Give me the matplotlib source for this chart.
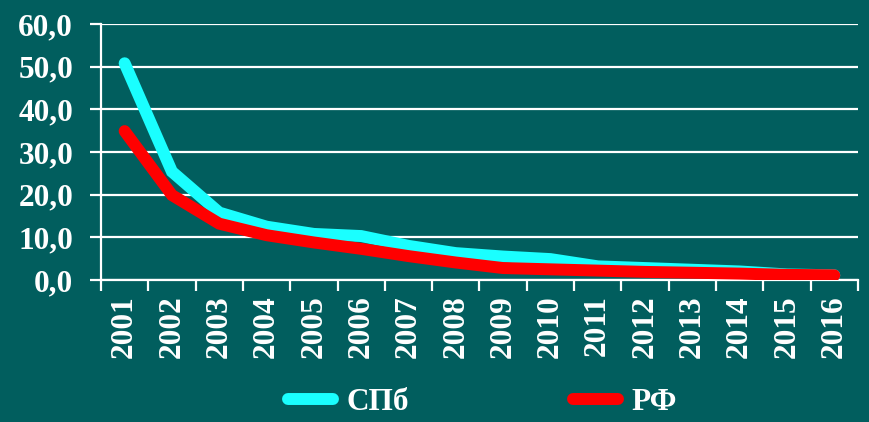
import matplotlib
matplotlib.use('Agg')
import matplotlib.pyplot as plt
from matplotlib.ticker import FixedLocator, FuncFormatter

# Data
years = ['2001', '2002', '2003', '2004', '2005', '2006', '2007', '2008',
         '2009', '2010', '2011', '2012', '2013', '2014', '2015', '2016']
spb = [50.8, 25.4, 15.8, 12.5, 10.8, 10.3, 8.0, 6.3, 5.5, 4.9, 3.2, 2.8, 2.4, 2.0, 1.3, 1.1]
rf = [34.9, 19.9, 13.2, 10.5, 8.8, 7.3, 5.6, 4.1, 2.8, 2.5, 2.2, 1.9, 1.7, 1.5, 1.2, 1.1]
yticks = [0, 10, 20, 30, 40, 50, 60]

bg = '#015e5e'
cyan = '#1affff'
red = '#ff0000'
fs = 22.5
plt.rcParams['font.family'] = ['Liberation Serif', 'DejaVu Serif']
plt.rcParams['font.weight'] = 'bold'

fig = plt.figure(figsize=(8.69, 4.22), dpi=100, facecolor=bg)
ax = fig.add_axes([0.1162, 0.3365, 0.8711, 0.6066])
ax.set_facecolor(bg)

x = list(range(len(years)))
ax.plot(x, spb, color=cyan, linewidth=8.6, solid_capstyle='round',
        solid_joinstyle='miter', label='СПб', zorder=3)
ax.plot(x, rf, color=red, linewidth=8.6, solid_capstyle='round',
        solid_joinstyle='miter', label='РФ', zorder=4)

ax.set_xlim(-0.5, len(years) - 0.5)
ax.set_ylim(0, 60)

# gridlines
ax.set_yticks(yticks)
ax.yaxis.set_major_formatter(FuncFormatter(lambda v, p: f'{v:.1f}'.replace('.', ',')))
ax.grid(axis='y', color='white', linewidth=1.6, zorder=1)
ax.set_axisbelow(True)

# category labels at centres, tick marks at boundaries
ax.set_xticks(x)
ax.set_xticklabels(years, rotation=90)
ax.xaxis.set_minor_locator(FixedLocator([i - 0.5 for i in range(len(years) + 1)]))
ax.tick_params(axis='x', which='major', length=0, pad=11, labelsize=fs, colors='white')
ax.tick_params(axis='x', which='minor', length=8, width=1.6, color='white', direction='out')
ax.tick_params(axis='y', length=8, width=1.6, color='white', direction='out',
               labelsize=fs, labelcolor='white', pad=12)

for side in ['top', 'right']:
    ax.spines[side].set_visible(False)
for side in ['left', 'bottom']:
    ax.spines[side].set_color('white')
    ax.spines[side].set_linewidth(1.6)

for lbl in ax.get_xticklabels() + ax.get_yticklabels():
    lbl.set_fontweight('bold')

leg = fig.legend(loc='center', bbox_to_anchor=(0.555, 0.047), ncol=2, frameon=False,
                 handlelength=1.45, handletextpad=0.42, columnspacing=5.25,
                 prop={'size': fs, 'weight': 'bold'})
for t in leg.get_texts():
    t.set_color('white')

fig.savefig('out.png', dpi=100, facecolor=bg)
